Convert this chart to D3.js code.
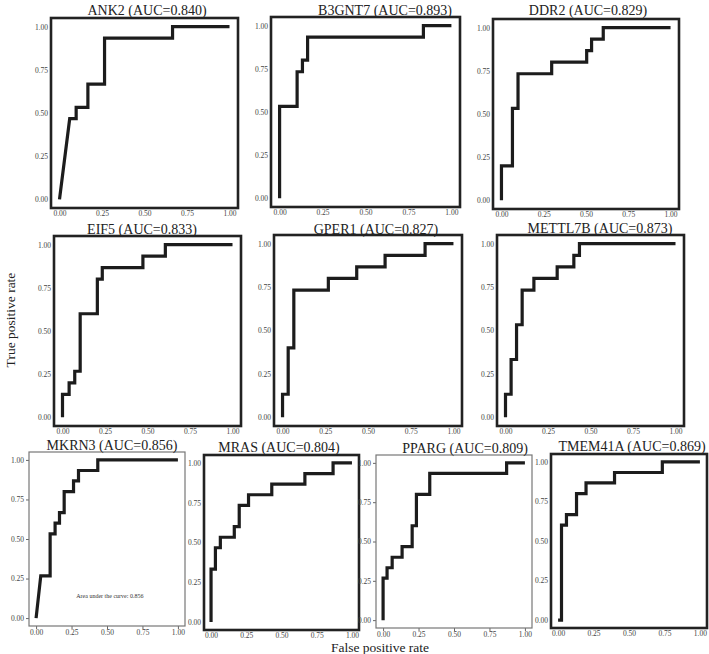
<!DOCTYPE html>
<html>
<head>
<meta charset="utf-8">
<script src="https://cdn.jsdelivr.net/npm/d3@7"></script>
<style>
  body { margin: 0; background: #fff; }
  svg { display: block; font-family: "Liberation Serif", "DejaVu Serif", serif; }
</style>
</head>
<body>
<div id="canvas"></div>
<script>
const genes = ["ANK2", "B3GNT7", "DDR2", "EIF5", "GPER1", "METTL7B", "MKRN3", "MRAS", "PPARG", "TMEM41A"];
const aucs = [0.840, 0.893, 0.829, 0.833, 0.827, 0.873, 0.856, 0.804, 0.809, 0.869];
const tickValues = [0, 0.25, 0.5, 0.75, 1];

// roc points
const fprANK2 = [0, 0.06, 0.098, 0.098, 0.167, 0.167, 0.265, 0.265, 0.665, 0.665, 1];
const tprANK2 = [0, 0.467, 0.467, 0.533, 0.533, 0.667, 0.667, 0.933, 0.933, 1, 1];
const fprB3GNT7 = [0, 0, 0.102, 0.102, 0.133, 0.133, 0.163, 0.163, 0.837, 0.837, 1];
const tprB3GNT7 = [0, 0.533, 0.533, 0.733, 0.733, 0.8, 0.8, 0.933, 0.933, 1, 1];
const fprDDR2 = [0, 0, 0.065, 0.065, 0.098, 0.098, 0.297, 0.297, 0.504, 0.504, 0.533, 0.533, 0.602, 0.602, 1];
const tprDDR2 = [0, 0.2, 0.2, 0.533, 0.533, 0.733, 0.733, 0.8, 0.8, 0.867, 0.867, 0.933, 0.933, 1, 1];
const fprEIF5 = [0, 0, 0.039, 0.039, 0.072, 0.072, 0.104, 0.104, 0.205, 0.205, 0.234, 0.234, 0.473, 0.473, 0.605, 0.605, 1];
const tprEIF5 = [0, 0.133, 0.133, 0.2, 0.2, 0.267, 0.267, 0.6, 0.6, 0.8, 0.8, 0.867, 0.867, 0.933, 0.933, 1, 1];
const fprGPER1 = [0, 0, 0.033, 0.033, 0.066, 0.066, 0.268, 0.268, 0.434, 0.434, 0.6, 0.6, 0.834, 0.834, 1];
const tprGPER1 = [0, 0.133, 0.133, 0.4, 0.4, 0.733, 0.733, 0.8, 0.8, 0.867, 0.867, 0.933, 0.933, 1, 1];
const fprMETTL7B = [0, 0, 0.033, 0.033, 0.065, 0.065, 0.098, 0.098, 0.167, 0.167, 0.304, 0.304, 0.402, 0.402, 0.435, 0.435, 1];
const tprMETTL7B = [0, 0.133, 0.133, 0.333, 0.333, 0.533, 0.533, 0.733, 0.733, 0.8, 0.8, 0.867, 0.867, 0.933, 0.933, 1, 1];
const fprMKRN3 = [0, 0.033, 0.099, 0.099, 0.134, 0.134, 0.165, 0.165, 0.198, 0.198, 0.264, 0.264, 0.299, 0.299, 0.435, 0.435, 1];
const tprMKRN3 = [0, 0.267, 0.267, 0.533, 0.533, 0.6, 0.6, 0.667, 0.667, 0.8, 0.8, 0.867, 0.867, 0.933, 0.933, 1, 1];
const fprMRAS = [0, 0, 0.031, 0.031, 0.066, 0.066, 0.165, 0.165, 0.2, 0.2, 0.266, 0.266, 0.431, 0.431, 0.666, 0.666, 0.866, 0.866, 1];
const tprMRAS = [0, 0.333, 0.333, 0.467, 0.467, 0.533, 0.533, 0.6, 0.6, 0.733, 0.733, 0.8, 0.8, 0.867, 0.867, 0.933, 0.933, 1, 1];
const fprPPARG = [0, 0, 0.028, 0.028, 0.064, 0.064, 0.134, 0.134, 0.205, 0.205, 0.235, 0.235, 0.329, 0.329, 0.871, 0.871, 1];
const tprPPARG = [0, 0.267, 0.267, 0.333, 0.333, 0.4, 0.4, 0.467, 0.467, 0.6, 0.6, 0.8, 0.8, 0.933, 0.933, 1, 1];
const fprTMEM41A = [0, 0.024, 0.024, 0.059, 0.059, 0.13, 0.13, 0.197, 0.197, 0.398, 0.398, 0.735, 0.735, 1];
const tprTMEM41A = [0, 0, 0.6, 0.6, 0.667, 0.667, 0.8, 0.8, 0.867, 0.867, 0.933, 0.933, 1, 1];

const fprs = [fprANK2, fprB3GNT7, fprDDR2, fprEIF5, fprGPER1, fprMETTL7B, fprMKRN3, fprMRAS, fprPPARG, fprTMEM41A];
const tprs = [tprANK2, tprB3GNT7, tprDDR2, tprEIF5, tprGPER1, tprMETTL7B, tprMKRN3, tprMRAS, tprPPARG, tprTMEM41A];

// panel boxes (frame) in page pixels
const layout = [
  { x: 51, y: 18, w: 187, h: 190, thin: false, tx: 147, ty: 15 },
  { x: 271, y: 17, w: 189, h: 190, thin: false, tx: 385, ty: 15 },
  { x: 493, y: 19, w: 186, h: 190, thin: false, tx: 588, ty: 15 },
  { x: 54, y: 236, w: 187, h: 190, thin: false, tx: 142, ty: 234 },
  { x: 274, y: 235, w: 188, h: 191, thin: false, tx: 376, ty: 234 },
  { x: 497, y: 235, w: 187, h: 191, thin: false, tx: 600, ty: 233 },
  { x: 29, y: 452, w: 156, h: 174, thin: true, tx: 112, ty: 450 },
  { x: 204, y: 455, w: 155, h: 175, thin: false, tx: 279, ty: 452 },
  { x: 376, y: 455, w: 156, h: 173, thin: true, tx: 465, ty: 453 },
  { x: 551, y: 454, w: 156, h: 174, thin: false, tx: 632, ty: 451 }
];

const width = 709;
const height = 654;

const svg = d3.select("#canvas")
  .append("svg")
  .attr("width", width)
  .attr("height", height);

genes.forEach(function (gene, i) {
  const p = layout[i];
  const x = d3.scaleLinear().domain([-0.05, 1.05]).range([p.x, p.x + p.w]);
  const y = d3.scaleLinear().domain([-0.05, 1.05]).range([p.y + p.h, p.y]);
  const g = svg.append("g");

  const tick = p.thin ? 3 : 0;

  const ax = g.append("g")
    .attr("transform", "translate(0," + (p.y + p.h) + ")")
    .call(d3.axisBottom(x).tickValues(tickValues).tickFormat(d3.format(".2f")).tickSize(tick).tickPadding(p.thin ? 1 : 3));
  const ay = g.append("g")
    .attr("transform", "translate(" + p.x + ",0)")
    .call(d3.axisLeft(y).tickValues(tickValues).tickFormat(d3.format(".2f")).tickSize(tick).tickPadding(p.thin ? 2 : 3));
  [ax, ay].forEach(function (a) {
    a.select(".domain").remove();
    a.selectAll("line").attr("stroke", "#666");
    a.selectAll("text")
      .attr("fill", "#444")
      .style("font-family", "'Liberation Serif', serif")
      .style("font-size", "7.5px");
  });

  const pts = fprs[i].map(function (f, j) { return [f, tprs[i][j]]; });
  const line = d3.line()
    .x(function (d) { return x(d[0]); })
    .y(function (d) { return y(d[1]); });

  g.append("path")
    .datum(pts)
    .attr("d", line)
    .attr("fill", "none")
    .attr("stroke", "#1c1c1c")
    .attr("stroke-width", 3.2)
    .attr("stroke-linejoin", "miter");

  g.append("rect")
    .attr("x", p.x)
    .attr("y", p.y)
    .attr("width", p.w)
    .attr("height", p.h)
    .attr("fill", "none")
    .attr("stroke", p.thin ? "#777" : "#222")
    .attr("stroke-width", p.thin ? 1.2 : 2.6);

  g.append("text")
    .attr("x", p.tx)
    .attr("y", p.ty)
    .attr("text-anchor", "middle")
    .style("font-size", "14px")
    .attr("fill", "#222")
    .text(gene + " (AUC=" + aucs[i].toFixed(3) + ")");

  if (gene === "MKRN3") {
    g.append("text")
      .attr("x", x(0.52))
      .attr("y", y(0.13))
      .attr("text-anchor", "middle")
      .style("font-size", "6px")
      .attr("fill", "#333")
      .text("Area under the curve: " + aucs[i].toFixed(3));
  }
});

svg.append("text")
  .attr("transform", "translate(15,320) rotate(-90)")
  .attr("text-anchor", "middle")
  .style("font-size", "13.5px")
  .attr("fill", "#222")
  .text("True positive rate");

svg.append("text")
  .attr("x", 380)
  .attr("y", 652)
  .attr("text-anchor", "middle")
  .style("font-size", "13.5px")
  .attr("fill", "#222")
  .text("False positive rate");
</script>
</body>
</html>
